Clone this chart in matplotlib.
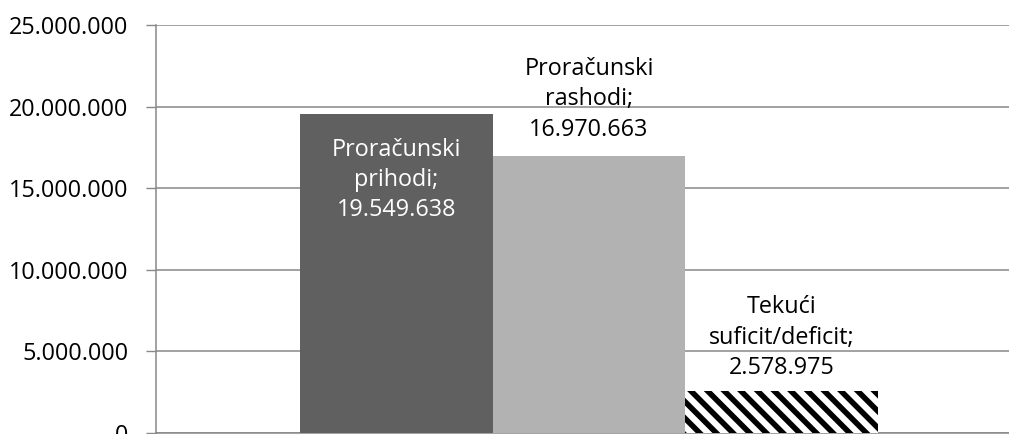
import matplotlib.pyplot as plt
from matplotlib.ticker import FuncFormatter, MultipleLocator

plt.rcParams['font.family'] = ['Open Sans', 'DejaVu Sans']
plt.rcParams['hatch.linewidth'] = 4.0

# data
categories = ['Proračunski\nprihodi;', 'Proračunski\nrashodi;', 'Tekući\nsuficit/deficit;']
values = [19549638, 16970663, 2578975]
colors = ['#606060', '#b2b2b2', 'white']
hatches = [None, None, '\\\\']

W, H = 1009, 434
fig = plt.figure(figsize=(W / 100, H / 100), dpi=100)
ax = fig.add_axes([156 / W, 1 / H, (W - 156) / W, 408 / H])

x = list(range(len(values)))
bars = ax.bar(x, values, width=1.0, color=colors, zorder=3, linewidth=0)
for b, h in zip(bars, hatches):
    if h:
        b.set_hatch(h)
        b.set_edgecolor('black')
        b.set_linewidth(0)

ax.set_xlim(-1.246, 3.179)
ax.set_ylim(0, 25000000)
ax.yaxis.set_major_locator(MultipleLocator(5000000))
ax.yaxis.set_major_formatter(FuncFormatter(lambda v, p: f"{v:,.0f}".replace(",", ".")))
ax.grid(axis='y', color='#888888', lw=1.1, zorder=0)
ax.set_xticks([])
ax.tick_params(axis='y', length=7, width=1, color='#888888', pad=13, labelsize=16.8, labelcolor='black')
for s in ['top', 'right']:
    ax.spines[s].set_visible(False)
for s in ['left', 'bottom']:
    ax.spines[s].set_color('#888888')
    ax.spines[s].set_linewidth(1.1)

fs = 16.8
ls = 1.35
# labels: first inside bar (white), others above bar
label_text = [f"{c}\n{v:,.0f}".replace(",", ".") for c, v in zip(categories, values)]
label_y = [15500000, 20450000, 5850000]
label_color = ['white', 'black', 'black']
for xi, t, yy, c in zip(x, label_text, label_y, label_color):
    ax.text(xi, yy, t, ha='center', va='center', color=c,
            fontsize=fs, linespacing=ls, zorder=5)

fig.savefig('out.png', dpi=100)
